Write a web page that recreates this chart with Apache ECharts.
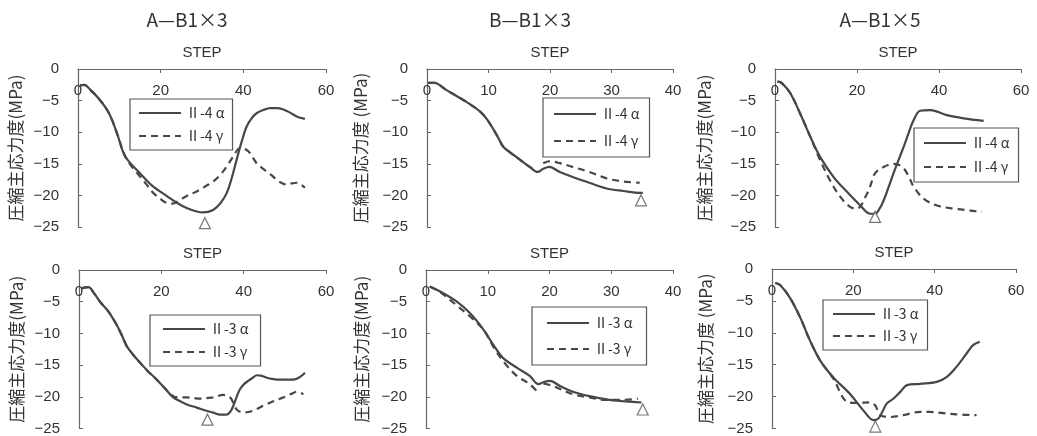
<!DOCTYPE html>
<html><head><meta charset="utf-8">
<script src="https://cdn.jsdelivr.net/npm/echarts@6/dist/echarts.min.js"></script>
<style>html,body{margin:0;padding:0;background:#fff}#c{width:1037px;height:436px}</style>
</head><body><div id="c"></div>
<script>
// Panel titles and labels
const panelTitles = ['A\u2014B1\u00d73', 'B\u2014B1\u00d73', 'A\u2014B1\u00d75'];
const xMaxes = [60, 40, 60];
const xIntervals = [20, 10, 20];
const yTicks = [0, -5, -10, -15, -20, -25];
const seriesNames = ['\u2161-4 \u03b1', '\u2161-4 \u03b3', '\u2161-3 \u03b1', '\u2161-3 \u03b3'];

// A-B1x3, II-4
const ab3_4a = [[0.5,-2.6],[1.5,-2.5],[3,-3.3],[5.3,-4.9],[7.5,-7],[9.4,-10.1],[11.4,-13.8],[15,-16.5],[18,-18.5],[21.5,-20.1],[24,-21.2],[26.3,-22],[28.5,-22.5],[30.3,-22.7],[32.7,-22.3],[34.5,-21.2],[36,-19.6],[37.3,-17],[38.4,-14.3],[39.6,-11.5],[40.8,-9.1],[42,-7.8],[43.2,-7],[44.8,-6.5],[46.5,-6.2],[48,-6.2],[49.7,-6.4],[51.3,-6.9],[52.9,-7.5],[54.9,-7.9]];
const ab3_4g = [[0.5,-2.6],[1.5,-2.5],[3,-3.3],[5.3,-4.9],[7.5,-7],[9.4,-10.1],[11.4,-13.8],[13.2,-15.6],[15,-17],[16.6,-18.3],[18.2,-19.6],[20,-20.6],[21.5,-21.2],[23,-21.3],[24.5,-20.8],[26.3,-20.1],[28,-19.6],[29.5,-19.1],[31,-18.5],[32.7,-17.8],[34.5,-16.7],[36,-15.4],[37.6,-13.8],[39.2,-12.5],[40.2,-12.6],[41.2,-13],[42.2,-13.9],[43.2,-14.9],[44.4,-15.6],[45.6,-16.2],[46.8,-16.8],[48,-17.5],[49.2,-18],[50.5,-18.3],[51.7,-18.1],[52.9,-18],[54,-18.3],[54.9,-18.8]];
const ab3_4tri = [[30.7,-24.4]];

// A-B1x3, II-3
const ab3_3a = [[0.6,-2.9],[2.3,-2.7],[3.6,-3.6],[5.1,-5],[7.2,-6.6],[9.1,-8.6],[10.4,-10.3],[11.6,-12],[13.2,-13.4],[14.8,-14.6],[16.8,-16],[18.9,-17.3],[20.9,-18.7],[22.9,-20.1],[24.6,-20.7],[26.2,-21.2],[28.6,-21.7],[31,-22.2],[32.6,-22.5],[34.3,-22.8],[35.9,-22.8],[36.8,-22.3],[37.5,-21.4],[38.3,-20],[39.1,-18.8],[40.1,-18],[41.1,-17.5],[42.2,-17],[43.2,-16.6],[44.4,-16.7],[45.6,-17],[47.2,-17.2],[48.8,-17.3],[50.4,-17.3],[52.1,-17.3],[53.6,-16.9],[54.9,-16.2]];
const ab3_3g = [[0.6,-2.9],[2.3,-2.7],[3.6,-3.6],[5.1,-5],[7.2,-6.6],[9.1,-8.6],[10.4,-10.3],[11.6,-12],[13.2,-13.4],[14.8,-14.6],[16.8,-16],[18.9,-17.3],[20.9,-18.7],[22.9,-19.9],[24.5,-20.1],[26.2,-20.1],[27.8,-20.2],[29.4,-20.3],[31,-20.2],[32.6,-20.1],[35,-19.7],[36.7,-20.1],[37.5,-21],[38.3,-22],[39.9,-22.5],[41.1,-22.4],[42.3,-22.2],[43.6,-21.8],[44.8,-21.4],[47.2,-20.7],[48.8,-20.3],[50.4,-19.9],[51.7,-19.5],[52.9,-19.2],[54.5,-19.6]];
const ab3_3tri = [[31.2,-23.6]];

// B-B1x3, II-4
const bb3_4a = [[0.2,-2.2],[1.2,-2.2],[3.1,-3.3],[5.9,-4.9],[8.6,-6.7],[9.7,-7.9],[10.7,-9.4],[11.6,-10.9],[12.4,-12.3],[13.5,-13.2],[14.5,-13.9],[16.7,-15.5],[18,-16.3],[18.9,-15.8],[19.9,-15.5],[21.6,-16.3],[23.7,-17.1],[26.4,-18],[29.2,-18.9],[31.9,-19.3],[34.6,-19.6],[35.1,-19.6]];
const bb3_4g = [[0.2,-2.2],[1.2,-2.2],[3.1,-3.3],[5.9,-4.9],[8.6,-6.7],[9.7,-7.9],[10.7,-9.4],[11.6,-10.9],[12.4,-12.3],[13.5,-13.2],[14.5,-13.9],[16.7,-15.5],[18,-16.3],[18.5,null],[18.9,-14.9],[19.9,-14.6],[21.6,-14.9],[23.7,-15.5],[26.4,-16.3],[29.2,-17.3],[31.9,-17.8],[34.6,-18]];
const bb3_4tri = [[34.8,-20.8]];

// B-B1x3, II-3
const bb3_3a = [[0.6,-2.6],[2.3,-3.4],[5,-5],[7.1,-6.8],[9.3,-9.4],[10.9,-11.8],[12.5,-13.9],[14.7,-15.4],[16.8,-16.7],[18.2,-18],[19,-17.7],[20.1,-17.5],[21.7,-18.3],[23.8,-19.2],[26.5,-19.9],[29.2,-20.4],[31.9,-20.7],[33.5,-20.8],[34.9,-20.9]];
const bb3_3g = [[0.6,-2.6],[2.3,-3.5],[5,-5.6],[7.1,-7.3],[9.3,-9.4],[10.9,-12.1],[12.5,-14.4],[14.7,-16.7],[16.8,-18],[18.2,-19.4],[18.6,null],[19,-17.9],[20.6,-18.3],[23.8,-19.6],[26.5,-20.1],[29.2,-20.5],[31.9,-20.5],[34.3,-20.3]];
const bb3_3tri = [[35.1,-22]];

// A-B1x5, II-4
const ab5_4a = [[0.6,-2],[1.6,-2.2],[3.7,-3.8],[6.1,-7],[8.6,-10.7],[11,-13.9],[14.3,-17.1],[17.5,-19.4],[20.8,-21.6],[23.2,-22.9],[24.4,-22.9],[25.5,-22.1],[26.5,-20.8],[27.7,-18.7],[28.9,-16.5],[30.2,-14.3],[31.4,-12.3],[32.6,-10.1],[33.8,-8.1],[35.4,-6.6],[37.9,-6.5],[41.9,-7.3],[46,-7.8],[50.9,-8.2]];
const ab5_4g = [[0.6,-2],[1.6,-2.2],[3.7,-3.8],[6.1,-7],[8.6,-10.7],[11,-14.4],[13.4,-17.6],[15.9,-20.2],[18.3,-21.8],[20,-22.1],[21,-21.6],[21.6,-20.8],[22.4,-19.8],[23.2,-18.6],[24.4,-16.5],[26.5,-15.5],[28.9,-15],[30.3,-15.2],[31.4,-15.7],[32.6,-17],[33.8,-18.6],[36.2,-20.5],[39.5,-21.6],[43.6,-22.1],[47.6,-22.4],[50.5,-22.6]];
const ab5_4tri = [[24.4,-23.4]];

// A-B1x5, II-3
const ab5_3a = [[0.8,-2.2],[2,-2.5],[4.5,-4.6],[7,-7.7],[9.4,-11.3],[11.9,-14.4],[15.1,-17],[19.2,-19.6],[22.5,-22.2],[25,-23.7],[26.2,-23.4],[27.2,-22.3],[28.2,-21.1],[29.9,-20.3],[31.5,-19.3],[33.2,-18.2],[36.4,-18],[40.5,-17.7],[43,-16.9],[45.4,-15.3],[47.9,-13.2],[49.5,-11.9],[51.1,-11.4]];
const ab5_3g = [[0.8,-2.2],[2,-2.5],[4.5,-4.6],[7,-7.7],[9.4,-11.3],[11.9,-14.4],[15.1,-17.2],[18.4,-20.8],[20.9,-21],[24.1,-20.9],[25.4,-21.4],[26.6,-22.9],[29,-23.2],[32.3,-22.9],[36.4,-22.4],[38.9,-22.4],[42.1,-22.6],[45.4,-22.8],[50.3,-22.9]];
const ab5_3tri = [[25.4,-24.7]];

const chart = echarts.init(document.getElementById('c'), null, {renderer: 'canvas'});
const LINE = '#474747';
const AX = '#666';
const TXT = '#333';
const FONT = '"Liberation Sans", Arial, sans-serif';
const JFONT = '"Noto Sans CJK JP", sans-serif';

const grids = [
  {left: 78, top: 69, width: 248, height: 158},
  {left: 427, top: 69, width: 246, height: 158},
  {left: 775, top: 69, width: 246, height: 158},
  {left: 79, top: 270, width: 247, height: 159},
  {left: 426, top: 270, width: 247, height: 159},
  {left: 772, top: 269, width: 244, height: 160}
];
const yNames = ['圧縮主応力度(MPa)', '圧縮主応力度 (MPa)', '圧縮主応力度(MPa)', '圧縮主応力度(MPa)', '圧縮主応力度(MPa)', '圧縮主応力度 (MPa)'];
const yNameGaps = [54, 58, 62, 54, 56, 58];

const xAxes = [], yAxes = [];
grids.forEach((g, i) => {
  const col = i % 3;
  xAxes.push({
    gridIndex: i, type: 'value', position: 'top', min: 0, max: xMaxes[col], interval: xIntervals[col],
    name: 'STEP', nameLocation: 'middle', nameGap: 9,
    nameTextStyle: {fontFamily: FONT, fontSize: 15, color: TXT},
    axisLine: {show: true, onZero: false, lineStyle: {color: AX, width: 1.2}},
    axisTick: {show: true, inside: true, length: 4, lineStyle: {color: AX}},
    axisLabel: {inside: true, margin: 14, fontFamily: FONT, fontSize: 15, color: TXT},
    splitLine: {show: false}
  });
  yAxes.push({
    gridIndex: i, type: 'value', min: yTicks[yTicks.length - 1], max: yTicks[0], interval: 5,
    name: yNames[i], nameLocation: 'middle', nameRotate: 90, nameGap: yNameGaps[i],
    nameTextStyle: {fontFamily: JFONT, fontSize: 17, color: TXT},
    axisLine: {show: true, lineStyle: {color: AX, width: 1.2}},
    axisTick: {show: true, inside: true, length: 4, lineStyle: {color: AX}},
    axisLabel: {margin: 19, fontFamily: FONT, fontSize: 15, color: TXT,
      formatter: v => (v < 0 ? '\u2212' + Math.abs(v) : String(v))},
    splitLine: {show: false}
  });
});

const panels = [
  [ab3_4a, ab3_4g, ab3_4tri, 0, 1],
  [bb3_4a, bb3_4g, bb3_4tri, 0, 1],
  [ab5_4a, ab5_4g, ab5_4tri, 0, 1],
  [ab3_3a, ab3_3g, ab3_3tri, 2, 3],
  [bb3_3a, bb3_3g, bb3_3tri, 2, 3],
  [ab5_3a, ab5_3g, ab5_3tri, 2, 3]
];
const series = [];
panels.forEach((p, i) => {
  series.push({
    type: 'line', name: seriesNames[p[3]], xAxisIndex: i, yAxisIndex: i, data: p[0],
    smooth: 0.35, showSymbol: false, symbol: 'none', connectNulls: false,
    lineStyle: {color: LINE, width: 2.2}, itemStyle: {color: LINE}, z: 3
  });
  series.push({
    type: 'line', name: seriesNames[p[4]], xAxisIndex: i, yAxisIndex: i, data: p[1],
    smooth: 0.35, showSymbol: false, symbol: 'none', connectNulls: false,
    lineStyle: {color: LINE, width: 2.2, type: [7, 5]}, itemStyle: {color: LINE}, z: 2
  });
  series.push({
    type: 'scatter', name: 'tri' + i, xAxisIndex: i, yAxisIndex: i, data: p[2],
    symbol: 'triangle', symbolSize: [11, 11],
    itemStyle: {color: '#fff', borderColor: '#555', borderWidth: 1.2}, z: 4
  });
});

const legendPos = [
  {left: 130, top: 99, pad: [7, 8, 7, 8], gap: 9},
  {left: 543, top: 98, pad: [9, 10, 9, 10], gap: 13},
  {left: 914, top: 128, pad: [8, 9, 8, 9], gap: 10},
  {left: 150, top: 315, pad: [7, 12, 7, 12], gap: 9},
  {left: 532, top: 307, pad: [9, 14, 9, 14], gap: 12},
  {left: 823, top: 300, pad: [7, 9, 7, 9], gap: 8}
];
const legends = legendPos.map((l, i) => ({
  orient: 'vertical', left: l.left, top: l.top, padding: l.pad, itemGap: l.gap,
  itemWidth: 42, itemHeight: 14,
  borderColor: '#555', borderWidth: 1.2, backgroundColor: '#fff',
  data: i < 3 ? [seriesNames[0], seriesNames[1]] : [seriesNames[2], seriesNames[3]],
  selectedMode: false,
  itemStyle: {color: 'rgba(0,0,0,0)', borderWidth: 0, opacity: 0},
  textStyle: {fontFamily: JFONT, fontSize: 14, color: TXT}
}));

const titles = panelTitles.map((t, i) => ({
  text: t, left: [182, 525, 875][i], top: 5, textAlign: 'center',
  textStyle: {fontFamily: JFONT, fontSize: 19, fontWeight: 'normal', color: TXT}
}));

chart.setOption({
  animation: false,
  backgroundColor: '#fff',
  title: titles,
  legend: legends,
  grid: grids,
  xAxis: xAxes,
  yAxis: yAxes,
  series: series
});
</script></body></html>
